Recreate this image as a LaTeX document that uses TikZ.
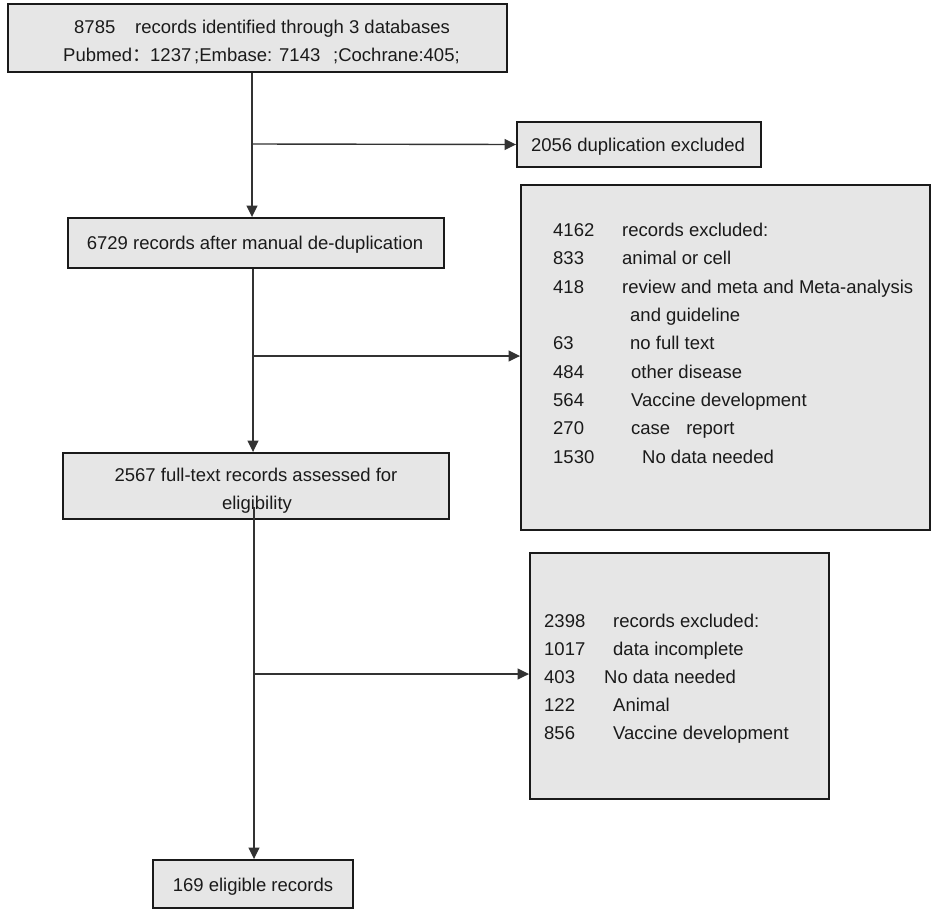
\documentclass[tikz,border=0pt]{standalone}
\usepackage{fontspec}
\setmainfont{Liberation Sans}
\newfontfamily\cjk{Noto Sans CJK SC}
\usetikzlibrary{arrows.meta}
\definecolor{boxgray}{HTML}{E6E6E6}
\definecolor{ink}{HTML}{1A1A1A}
\begin{document}
\begin{tikzpicture}[x=1pt,y=-1pt,
  box/.style={draw=ink, line width=1.9pt, fill=boxgray, inner sep=0pt},
  conn/.style={draw=black!80, line width=1.4pt},
  arr/.style={conn, -{Triangle[length=11.5pt,width=11pt]}},
  txt/.style={anchor=base west, inner sep=0pt, text=ink, font=\fontsize{18.5}{22}\selectfont},
  ctxt/.style={anchor=base, inner sep=0pt, text=ink, font=\fontsize{18.5}{22}\selectfont}]
\useasboundingbox (0,0) rectangle (935,913);

% boxes
\node[box, minimum width=499pt, minimum height=68pt] (b1) at (257.5,38) {};
\node[box, minimum width=244pt, minimum height=45pt] (b2) at (639,144.5) {};
\node[box, minimum width=376pt, minimum height=50pt] (b3) at (256,243) {};
\node[box, minimum width=409pt, minimum height=345pt] (b4) at (725.5,357.5) {};
\node[box, minimum width=386pt, minimum height=66pt] (b5) at (256,486) {};
\node[box, minimum width=299pt, minimum height=246pt] (b6) at (679.5,676) {};
\node[box, minimum width=200pt, minimum height=48pt] (b7) at (253,884) {};

% box 1 text
\node[txt] (t1a) at (74,33.7) {8785};
\node[txt] (t1b) at (135,33.7) {records identified through 3 databases};
\node[txt] (t1c) at (63,61.7) {Pubmed{\cjk ：}};
\node[txt] (t1d) at (150,61.7) {1237};
\node[txt] (t1e) at (194,61.7) {;Embase: 7143};
\node[txt] (t1f) at (333,61.7) {;Cochrane:405;};

% box 2 text
\node[ctxt] (t2) at (638,151.2) {2056 duplication excluded};

% box 3 text
\node[ctxt] (t3) at (255,249.7) {6729 records after manual de-duplication};

% box 4 text
\node[txt] (n41) at (553,236.7) {4162};
\node[txt] (l41) at (622,236.7) {records excluded:};
\node[txt] (n42) at (553,264.7) {833};
\node[txt] (l42) at (622,264.7) {animal or cell};
\node[txt] (n43) at (553,293.7) {418};
\node[txt] (l43) at (622,293.7) {review and meta and Meta-analysis};
\node[txt] (l43b) at (630,321.7) {and guideline};
\node[txt] (n44) at (553,349.7) {63};
\node[txt] (l44) at (630,349.7) {no full text};
\node[txt] (n45) at (553,378.7) {484};
\node[txt] (l45) at (631,378.7) {other disease};
\node[txt] (n46) at (553,406.7) {564};
\node[txt] (l46) at (631,406.7) {Vaccine development};
\node[txt] (n47) at (553,434.7) {270};
\node[txt] (l47) at (631,434.7) {case\hspace{16pt}report};
\node[txt] (n48) at (553,463.7) {1530};
\node[txt] (l48) at (642,463.7) {No data needed};

% box 5 text
\node[ctxt] (t5a) at (256,481.7) {2567 full-text records assessed for};
\node[ctxt] (t5b) at (257,509.7) {eligibility};

% box 6 text
\node[txt] (n61) at (544,627.7) {2398};
\node[txt] (l61) at (613,627.7) {records excluded:};
\node[txt] (n62) at (544,655.7) {1017};
\node[txt] (l62) at (613,655.7) {data incomplete};
\node[txt] (n63) at (544,683.7) {403};
\node[txt] (l63) at (604,683.7) {No data needed};
\node[txt] (n64) at (544,711.7) {122};
\node[txt] (l64) at (613,711.7) {Animal};
\node[txt] (n65) at (544,739.7) {856};
\node[txt] (l65) at (613,739.7) {Vaccine development};

% box 7 text
\node[ctxt] (t7) at (253,891.7) {169 eligible records};

% connectors
\coordinate (j1) at (252,144);
\coordinate (j2) at (253,356);
\coordinate (s3) at (254,507);
\coordinate (j3) at (254,674);
\draw[arr] (b1.south -| j1) -- (b3.north -| j1);
\draw[arr] (j1) -- (b2.west);
\draw[arr] (b3.south -| j2) -- (b5.north -| j2);
\draw[arr] (j2) -- (j2 -| b4.west);
\draw[arr] (s3) -- (b7.north -| s3);
\draw[arr] (j3) -- (j3 -| b6.west);
\end{tikzpicture}
\end{document}
